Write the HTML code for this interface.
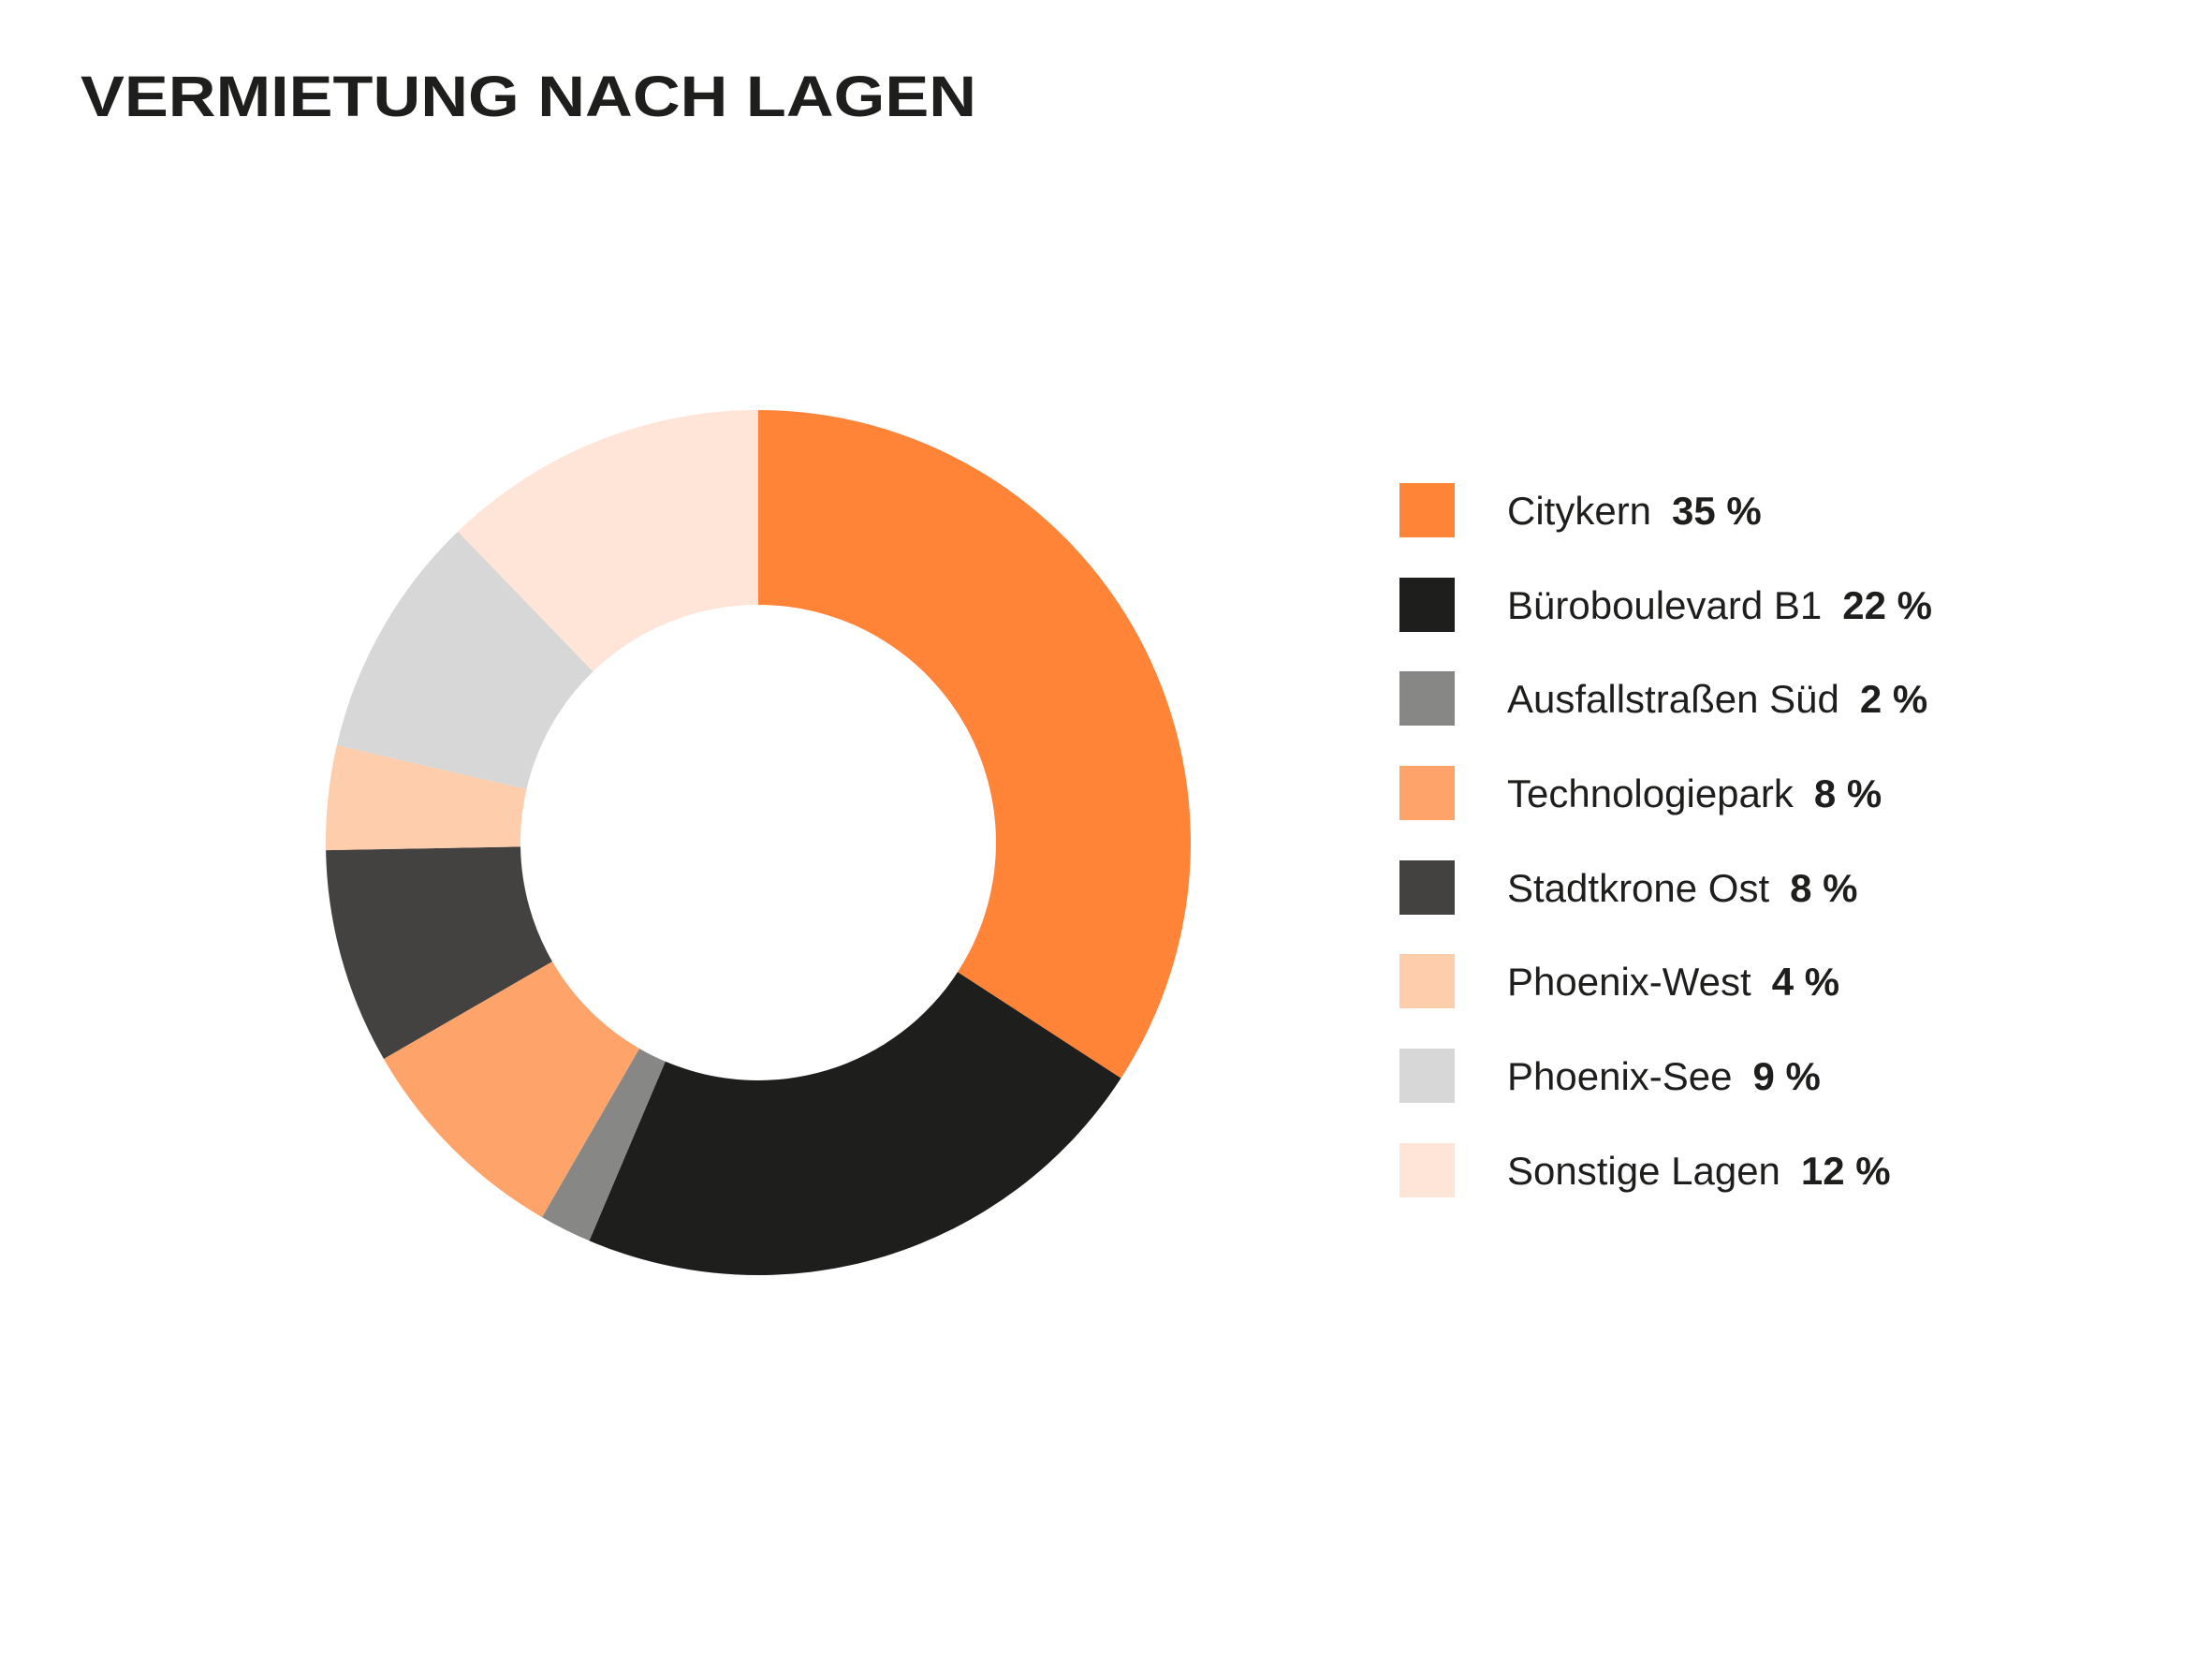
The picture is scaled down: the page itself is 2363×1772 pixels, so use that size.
<!DOCTYPE html>
<html><head><meta charset="utf-8"><style>
html,body{margin:0;padding:0;background:#fff;}
svg{display:block;}
</style></head><body>
<svg width="2363" height="1772" viewBox="0 0 2363 1772" xmlns="http://www.w3.org/2000/svg">
<rect width="2363" height="1772" fill="#fff"/>
<text x="86" y="124" font-family="Liberation Sans, sans-serif" font-weight="bold" font-size="61" fill="#1e1e1c" textLength="957" lengthAdjust="spacingAndGlyphs">VERMIETUNG NACH LAGEN</text>
<g stroke="none">
<path d="M810,438 A462,462 0 0 1 1197.5,1151.6 L1023,1038.3 A254,254 0 0 0 810,646 Z" fill="#ff8438"/>
<path d="M1197.5,1151.6 A462,462 0 0 1 629.5,1325.3 L710.8,1133.8 A254,254 0 0 0 1023,1038.3 Z" fill="#1e1e1c"/>
<path d="M629.5,1325.3 A462,462 0 0 1 579,1300.1 L683,1120 A254,254 0 0 0 710.8,1133.8 Z" fill="#878785"/>
<path d="M579,1300.1 A462,462 0 0 1 409.9,1131 L590,1027 A254,254 0 0 0 683,1120 Z" fill="#fea46a"/>
<path d="M409.9,1131 A462,462 0 0 1 348.1,908.1 L556,904.4 A254,254 0 0 0 590,1027 Z" fill="#434241"/>
<path d="M348.1,908.1 A462,462 0 0 1 359.8,796 L562.5,842.9 A254,254 0 0 0 556,904.4 Z" fill="#fecdab"/>
<path d="M359.8,796 A462,462 0 0 1 489.1,567.7 L633.5,717.3 A254,254 0 0 0 562.5,842.9 Z" fill="#d7d7d7"/>
<path d="M489.1,567.7 A462,462 0 0 1 810,438 L810,646 A254,254 0 0 0 633.5,717.3 Z" fill="#fee5d8"/>
</g>
<g font-family="Liberation Sans, sans-serif" font-size="42" fill="#1e1e1c">
<rect x="1495" y="516" width="59" height="58" fill="#ff8438"/>
<text x="1610" y="560">Citykern<tspan dx="22" font-weight="bold">35 %</tspan></text>
<rect x="1495" y="617" width="59" height="58" fill="#1e1e1c"/>
<text x="1610" y="661">Büroboulevard B1<tspan dx="22" font-weight="bold">22 %</tspan></text>
<rect x="1495" y="717" width="59" height="58" fill="#878785"/>
<text x="1610" y="761">Ausfallstraßen Süd<tspan dx="22" font-weight="bold">2 %</tspan></text>
<rect x="1495" y="818" width="59" height="58" fill="#fea46a"/>
<text x="1610" y="862">Technologiepark<tspan dx="22" font-weight="bold">8 %</tspan></text>
<rect x="1495" y="919" width="59" height="58" fill="#434241"/>
<text x="1610" y="963">Stadtkrone Ost<tspan dx="22" font-weight="bold">8 %</tspan></text>
<rect x="1495" y="1019" width="59" height="58" fill="#fecdab"/>
<text x="1610" y="1063">Phoenix-West<tspan dx="22" font-weight="bold">4 %</tspan></text>
<rect x="1495" y="1120" width="59" height="58" fill="#d7d7d7"/>
<text x="1610" y="1164">Phoenix-See<tspan dx="22" font-weight="bold">9 %</tspan></text>
<rect x="1495" y="1221" width="59" height="58" fill="#fee5d8"/>
<text x="1610" y="1265">Sonstige Lagen<tspan dx="22" font-weight="bold">12 %</tspan></text>
</g>
</svg>
</body></html>
